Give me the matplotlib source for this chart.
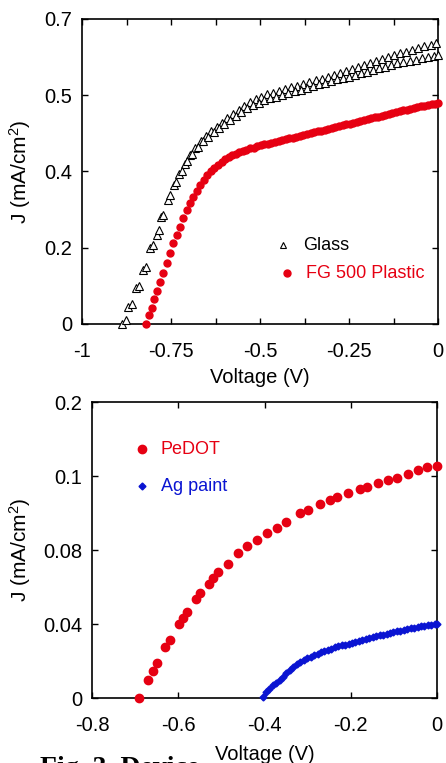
import matplotlib.pyplot as plt
import numpy as np

plt.rcParams['font.family'] = ['Liberation Sans', 'DejaVu Sans']
plt.rcParams['mathtext.fontset'] = 'custom'
plt.rcParams['mathtext.rm'] = 'Liberation Sans'
plt.rcParams['mathtext.it'] = 'Liberation Sans:italic'

# top panel: glass vs plastic substrate (two sweeps for glass)
glass_v1 = [-0.888, -0.871, -0.848, -0.829, -0.809, -0.789, -0.778, -0.758, -0.742, -0.727,
            -0.712, -0.697, -0.682, -0.667, -0.652, -0.637, -0.622, -0.607, -0.592, -0.576,
            -0.560, -0.544, -0.528, -0.512, -0.496, -0.480, -0.463, -0.446, -0.429, -0.412,
            -0.395, -0.378, -0.361, -0.344, -0.327, -0.310, -0.293, -0.276, -0.259, -0.242,
            -0.225, -0.208, -0.191, -0.174, -0.157, -0.140, -0.123, -0.106, -0.089, -0.072,
            -0.055, -0.038, -0.021, -0.006]
glass_j1 = [0.000, 0.040, 0.083, 0.124, 0.174, 0.204, 0.245, 0.285, 0.318, 0.345,
            0.368, 0.388, 0.405, 0.419, 0.431, 0.442, 0.452, 0.462, 0.472, 0.482,
            0.492, 0.501, 0.509, 0.516, 0.522, 0.527, 0.531, 0.535, 0.539, 0.543,
            0.547, 0.551, 0.555, 0.559, 0.563, 0.567, 0.571, 0.576, 0.581, 0.585,
            0.590, 0.595, 0.600, 0.604, 0.608, 0.612, 0.617, 0.621, 0.625, 0.629,
            0.633, 0.637, 0.641, 0.644]
glass_v2 = [-0.876, -0.860, -0.840, -0.820, -0.801, -0.785, -0.772, -0.752, -0.736, -0.720,
            -0.705, -0.690, -0.675, -0.660, -0.645, -0.630, -0.615, -0.600, -0.584, -0.568,
            -0.552, -0.536, -0.520, -0.504, -0.488, -0.471, -0.454, -0.437, -0.420, -0.403,
            -0.386, -0.369, -0.352, -0.335, -0.318, -0.301, -0.284, -0.267, -0.250, -0.233,
            -0.216, -0.199, -0.182, -0.165, -0.148, -0.131, -0.114, -0.097, -0.080, -0.063,
            -0.046, -0.029, -0.012, 0.000]
glass_j2 = [0.010, 0.046, 0.088, 0.131, 0.181, 0.215, 0.250, 0.295, 0.325, 0.352,
            0.373, 0.391, 0.406, 0.419, 0.430, 0.440, 0.449, 0.460, 0.469, 0.478,
            0.487, 0.495, 0.502, 0.508, 0.513, 0.518, 0.522, 0.526, 0.530, 0.534,
            0.538, 0.542, 0.546, 0.550, 0.554, 0.558, 0.562, 0.565, 0.568, 0.571,
            0.575, 0.579, 0.583, 0.587, 0.590, 0.594, 0.598, 0.601, 0.604, 0.607,
            0.610, 0.613, 0.615, 0.617]

fg_v = [-0.820, -0.812, -0.803, -0.798, -0.789, -0.781, -0.772, -0.761, -0.753, -0.744,
        -0.733, -0.725, -0.716, -0.705, -0.697, -0.688, -0.677, -0.668, -0.658, -0.648,
        -0.638, -0.628, -0.618, -0.608, -0.598, -0.588, -0.578, -0.568, -0.558, -0.548,
        -0.538, -0.528, -0.518, -0.508, -0.498, -0.488, -0.478, -0.468, -0.458, -0.448,
        -0.438, -0.428, -0.418, -0.408, -0.398, -0.388, -0.378, -0.368, -0.358, -0.348,
        -0.338, -0.328, -0.318, -0.308, -0.298, -0.288, -0.278, -0.268, -0.258, -0.248,
        -0.238, -0.228, -0.218, -0.208, -0.198, -0.188, -0.178, -0.168, -0.158, -0.148,
        -0.138, -0.128, -0.118, -0.108, -0.098, -0.088, -0.078, -0.068, -0.058, -0.048,
        -0.038, -0.028, -0.018, -0.008, 0.000]
fg_j = [0.000, 0.020, 0.037, 0.057, 0.076, 0.096, 0.117, 0.140, 0.163, 0.186,
        0.204, 0.223, 0.243, 0.262, 0.278, 0.292, 0.305, 0.318, 0.330, 0.341,
        0.351, 0.359, 0.366, 0.372, 0.378, 0.383, 0.387, 0.391, 0.394, 0.397,
        0.400, 0.403, 0.405, 0.408, 0.410, 0.412, 0.414, 0.416, 0.418, 0.420,
        0.422, 0.424, 0.426, 0.428, 0.430, 0.432, 0.434, 0.436, 0.438, 0.440,
        0.442, 0.444, 0.446, 0.448, 0.450, 0.452, 0.454, 0.456, 0.458, 0.460,
        0.462, 0.464, 0.466, 0.468, 0.470, 0.472, 0.474, 0.476, 0.478, 0.480,
        0.482, 0.484, 0.486, 0.488, 0.490, 0.492, 0.494, 0.496, 0.498, 0.500,
        0.501, 0.503, 0.505, 0.506, 0.508]

# bottom panel: PeDOT vs Ag paint contact
pedot_v = [-0.691, -0.670, -0.659, -0.650, -0.631, -0.620, -0.598, -0.589, -0.580, -0.559,
           -0.550, -0.529, -0.519, -0.508, -0.485, -0.461, -0.440, -0.417, -0.394, -0.371,
           -0.350, -0.318, -0.299, -0.272, -0.248, -0.232, -0.206, -0.179, -0.162, -0.137,
           -0.114, -0.093, -0.067, -0.044, -0.023, 0.000]
pedot_j = [0.0000, 0.0097, 0.0146, 0.0190, 0.0276, 0.0315, 0.0400, 0.0435, 0.0465, 0.0535,
           0.0568, 0.0616, 0.0648, 0.0680, 0.0724, 0.0784, 0.0822, 0.0854, 0.0892, 0.0920,
           0.0952, 0.1000, 0.1016, 0.1048, 0.1070, 0.1086, 0.1108, 0.1130, 0.1141, 0.1162,
           0.1178, 0.1190, 0.1210, 0.1232, 0.1249, 0.1254]

ag_v = [-0.403, -0.396, -0.389, -0.381, -0.373, -0.365, -0.357, -0.349, -0.341, -0.333,
        -0.325, -0.317, -0.309, -0.301, -0.293, -0.285, -0.277, -0.269, -0.261, -0.253,
        -0.245, -0.237, -0.229, -0.221, -0.213, -0.205, -0.197, -0.189, -0.181, -0.173,
        -0.165, -0.157, -0.149, -0.141, -0.133, -0.125, -0.117, -0.109, -0.101, -0.093,
        -0.085, -0.077, -0.069, -0.061, -0.053, -0.045, -0.037, -0.029, -0.021, -0.013,
        -0.005, 0.000]
ag_j = [0.0005, 0.0030, 0.0050, 0.0068, 0.0082, 0.0097, 0.0114, 0.0133, 0.0150, 0.0168,
        0.0182, 0.0195, 0.0206, 0.0214, 0.0224, 0.0232, 0.0240, 0.0248, 0.0255, 0.0261,
        0.0267, 0.0273, 0.0279, 0.0284, 0.0289, 0.0294, 0.0299, 0.0304, 0.0309, 0.0314,
        0.0319, 0.0324, 0.0329, 0.0334, 0.0338, 0.0343, 0.0347, 0.0352, 0.0356, 0.0360,
        0.0364, 0.0368, 0.0372, 0.0376, 0.0380, 0.0384, 0.0388, 0.0391, 0.0394, 0.0397,
        0.0400, 0.0402]

top_yticks = [0, 0.175, 0.35, 0.525, 0.7]
top_ylabels = ['0', '0.2', '0.4', '0.5', '0.7']
top_xticks = [-1, -0.75, -0.5, -0.25, 0]
top_xlabels = ['-1', '-0.75', '-0.5', '-0.25', '0']
bot_yticks = [0, 0.04, 0.08, 0.12, 0.16]
bot_ylabels = ['0', '0.04', '0.08', '0.1', '0.2']
bot_xticks = [-0.8, -0.6, -0.4, -0.2, 0]
bot_xlabels = ['-0.8', '-0.6', '-0.4', '-0.2', '0']

RED = '#e60012'
BLUE = '#0a14d2'

fig = plt.figure(figsize=(4.46, 7.63), dpi=100)
ax1 = fig.add_axes([82/446, 1-324/763, 356/446, 305/763])
ax2 = fig.add_axes([92/446, 1-698/763, 345/446, 296/763])


def style_axes(ax):
    for s in ax.spines.values():
        s.set_linewidth(1.2)
    ax.tick_params(which='both', direction='in', top=True, right=True,
                   length=4, width=1.0, labelsize=14.5)
    ax.tick_params(axis='x', pad=13)
    ax.tick_params(axis='y', pad=7)


ax1.plot(glass_v1, glass_j1, '^', ms=6, mfc='white', mec='black', mew=0.8, clip_on=False, zorder=3)
ax1.plot(glass_v2, glass_j2, '^', ms=6, mfc='white', mec='black', mew=0.8, clip_on=False, zorder=3)
ax1.plot(fg_v, fg_j, 'o', ms=5, color=RED, mec=RED, clip_on=False, zorder=4)
ax1.set_xlim(-1, 0)
ax1.set_ylim(0, 0.7)
ax1.set_xticks(top_xticks)
ax1.set_xticklabels(top_xlabels)
ax1.set_xticks([-0.875, -0.625, -0.375, -0.125], minor=True)
ax1.set_yticks(top_yticks)
ax1.set_yticklabels(top_ylabels)
style_axes(ax1)
ax1.set_xlabel('Voltage (V)', fontsize=14.5)
ax1.set_ylabel('J (mA/cm$^2$)', fontsize=15)
ax1.xaxis.set_label_coords(0.5, -0.145)
ax1.yaxis.set_label_coords(-0.137, 0.5)

# hand-placed legend like the original
ax1.plot([-0.435], [0.181], '^', ms=5, mfc='white', mec='black', mew=0.8)
ax1.text(-0.379, 0.181, 'Glass', fontsize=13, va='center', color='black')
ax1.plot([-0.424], [0.117], 'o', ms=5, color=RED)
ax1.text(-0.371, 0.117, 'FG 500 Plastic', fontsize=13, va='center', color=RED)

ax2.plot(pedot_v, pedot_j, 'o', ms=6, color=RED, mec=RED, clip_on=False, zorder=3)
ax2.plot(ag_v, ag_j, 'D', ms=3.5, color=BLUE, mec=BLUE, clip_on=False, zorder=3)
ax2.set_xlim(-0.8, 0)
ax2.set_ylim(0, 0.16)
ax2.set_xticks(bot_xticks)
ax2.set_xticklabels(bot_xlabels)
ax2.set_yticks(bot_yticks)
ax2.set_yticklabels(bot_ylabels)
style_axes(ax2)
ax2.set_xlabel('Voltage (V)', fontsize=14.5)
ax2.set_ylabel('J (mA/cm$^2$)', fontsize=15)
ax2.xaxis.set_label_coords(0.5, -0.16)
ax2.yaxis.set_label_coords(-0.171, 0.5)

ax2.plot([-0.684], [0.1345], 'o', ms=6, color=RED)
ax2.text(-0.64, 0.1345, 'PeDOT', fontsize=13, va='center', color=RED)
ax2.plot([-0.684], [0.1145], 'D', ms=3.5, color=BLUE)
ax2.text(-0.64, 0.1145, 'Ag paint', fontsize=13, va='center', color=BLUE)

# caption of the page, cut off at the bottom
fig.text(40/446, 1-775/763, 'Fig. 3. Device', fontsize=20, fontweight='bold',
         family='Liberation Serif', va='baseline', zorder=0)

fig.savefig('out.png', dpi=100)
